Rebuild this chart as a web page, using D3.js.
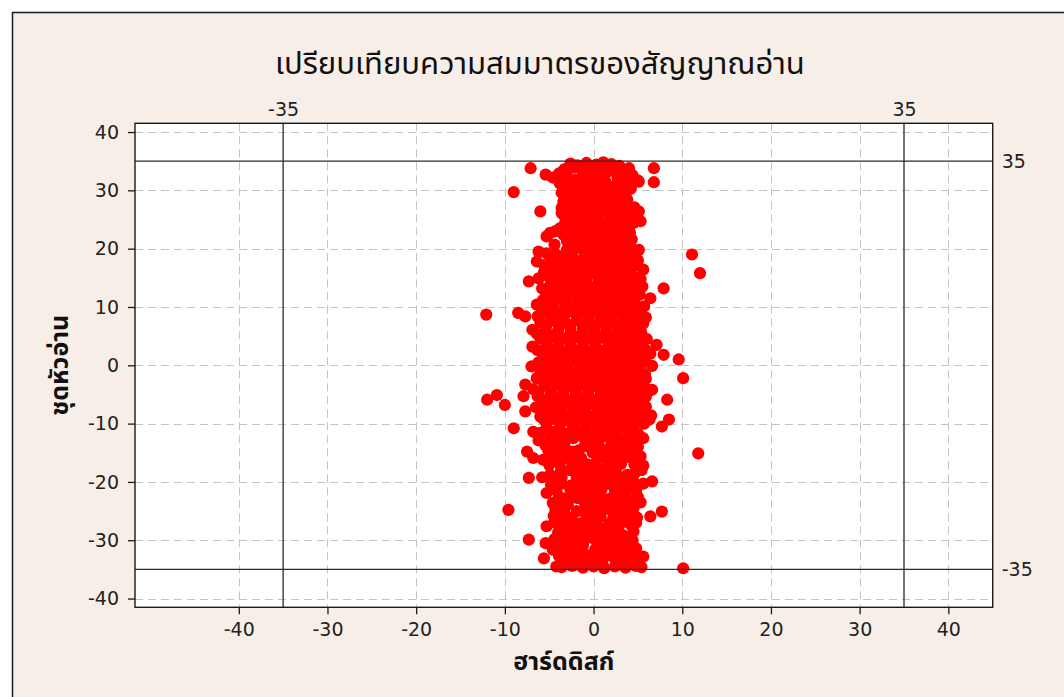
<!DOCTYPE html>
<html>
<head>
<meta charset="utf-8">
<script src="https://cdn.jsdelivr.net/npm/d3@7"></script>
<style>
  html, body { margin: 0; padding: 0; background: #ffffff; }
  svg { display: block; }
</style>
</head>
<body>
<svg id="chart" width="1064" height="697"></svg>
<script>
// Chart texts
const chartTitle = "เปรียบเทียบความสมมาตรของสัญญาณอ่าน";
const xTitle = "ฮาร์ดดิสก์";
const yTitle = "ชุดหัวอ่าน";

// Axes
const xTicks = [-40, -30, -20, -10, 0, 10, 20, 30, 40];
const yTicks = [-40, -30, -20, -10, 0, 10, 20, 30, 40];
const xDomain = [-51.7, 45.0];
const yDomain = [-41.5, 41.5];

// Specification limits drawn as reference lines
const limitValues = [-35, 35];

// Measured readings: [hard-disk offset, head offset]
const readings = [
  [-2.6,34.6],[-1.8,34.3],[-0.8,34.7],[0.3,34.4],[1.1,34.8],[2.0,34.5],[2.9,34.2],
  [-7.1,33.8],[-3.3,33.6],[-2.2,33.9],[0.8,33.7],[2.4,33.4],[3.5,33.1],[6.8,33.8],
  [-5.4,32.7],[-3.9,32.9],[-1.2,33.0],[1.6,33.2],[3.3,32.8],[4.4,32.6],
  [-4.6,32.2],[-3.0,32.4],[-0.4,32.3],[0.4,32.5],[2.7,32.1],[4.0,32.0],[5.0,31.7],
  [-2.3,31.4],[-0.9,31.2],[1.3,31.6],[5.1,31.5],[6.8,31.4],
  [-1.7,30.8],[0.4,31.0],[2.2,30.7],
  [-9.0,29.7],[-2.6,30.1],[-0.2,30.3],[1.8,29.9],[3.0,30.1],
  [-2.1,29.4],[0.8,29.5],[3.6,29.2],
  [-3.4,28.1],[-0.4,28.4],[1.5,28.4],[3.8,28.4],[-2.5,28.7],
  [-3.0,27.3],[-1.3,27.6],[0.9,27.2],[2.4,27.5],[4.6,27.1],
  [-6.0,26.4],[-2.6,26.4],[-0.9,26.1],[0.8,26.7],[2.6,26.7],[5.1,26.4],
  [-3.3,25.6],[-1.9,25.0],[1.9,25.5],[3.1,25.3],[4.2,25.8],
  [-2.8,24.4],[-0.6,24.8],[0.4,24.2],[2.0,24.6],[3.4,24.7],[5.3,24.7],
  [-3.8,23.5],[-1.5,23.3],[0.9,23.6],[2.6,23.2],[4.0,23.1],
  [-5.3,22.1],[-4.9,22.7],[-3.4,22.4],[-0.7,23.2],[-1.5,22.1],[1.7,22.4],[3.0,22.0],[4.1,22.7],
  [-2.2,21.5],[-1.3,21.0],[0.5,21.3],[1.3,21.7],[2.4,21.2],[3.5,21.6],
  [-6.2,19.5],[-3.0,19.8],[-1.5,20.1],[0.0,19.8],[1.0,20.4],[2.2,20.0],[3.2,20.3],[5.1,19.8],
  [-4.2,19.0],[-2.4,18.8],[-0.6,19.3],[1.5,19.2],[2.9,18.9],[3.8,19.2],[4.6,18.7],[11.1,19.0],
  [-6.4,17.8],[-3.6,18.2],[-1.8,17.9],[0.3,18.3],[1.9,17.7],[3.4,18.0],[4.1,18.4],
  [-4.9,16.7],[-4.0,17.1],[-2.8,16.8],[-0.9,17.2],[0.7,16.9],[1.9,17.2],[3.4,16.7],[4.6,17.0],
  [-5.6,15.9],[-2.6,15.5],[-1.4,16.0],[0.1,15.7],[1.3,16.1],[2.9,15.6],[4.1,15.9],[4.9,15.0],[12.0,15.8],
  [-7.3,14.4],[-4.5,14.7],[-3.5,14.4],[-2.0,14.8],[-0.8,14.5],[0.6,14.7],[1.9,14.3],[3.2,14.6],[4.4,14.2],[5.5,13.5],
  [-5.8,13.2],[-4.1,13.4],[-2.9,13.1],[-1.5,13.5],[-0.2,13.2],[1.1,13.4],[2.4,13.0],[3.6,13.3],[4.8,13.1],[7.9,13.2],
  [-5.0,12.0],[-3.6,11.8],[-2.3,12.2],[-1.0,11.9],[0.4,12.1],[1.7,11.8],[2.9,12.2],[4.1,11.9],[5.2,12.1],[6.4,11.5],
  [-6.4,10.4],[-4.5,10.7],[-3.1,10.5],[-1.7,10.8],[-0.4,10.5],[0.9,10.7],[2.2,10.4],[3.5,10.8],[4.7,10.5],[5.7,10.1],
  [-12.1,8.7],[-8.5,9.0],[-5.5,9.2],[-4.0,8.9],[-2.6,9.3],[-1.2,9.0],[0.2,9.2],[1.5,8.9],[2.8,9.3],[4.0,9.0],[5.2,9.2],
  [-7.7,8.4],
  [-6.0,7.4],[-4.6,7.7],[-3.3,7.5],[-1.9,7.8],[-0.6,7.4],[0.8,7.7],[2.1,7.5],[3.4,7.8],[4.7,7.4],[5.6,7.2],
  [-6.9,6.1],[-5.4,6.2],[-4.0,6.0],[-2.6,6.3],[-1.2,6.0],[0.1,6.2],[1.5,6.0],[2.8,6.3],[4.1,6.1],[5.3,6.0],
  [-6.0,4.6],[-4.6,4.8],[-3.3,4.6],[-1.9,4.9],[-0.5,4.6],[0.9,4.8],[2.2,4.6],[3.5,4.9],[4.8,4.7],[6.0,4.5],
  [-6.9,3.2],[-5.3,3.4],[-4.0,3.2],[-2.6,3.5],[-1.2,3.2],[0.2,3.4],[1.6,3.1],[2.9,3.4],[4.5,3.2],[5.5,3.3],[7.1,3.5],
  [-5.7,1.9],[-4.4,2.0],[-3.0,1.8],[-1.6,2.1],[-0.2,1.8],[1.2,2.0],[2.5,1.8],[3.8,2.1],[5.1,1.9],[6.4,2.0],[7.9,1.8],
  [9.6,1.0],
  [-6.2,0.5],[-4.9,0.6],[-3.5,0.4],[-2.1,0.7],[-0.8,0.4],[0.6,0.6],[1.9,0.4],[3.2,0.7],[4.5,0.5],[5.8,0.6],
  [-7.0,-0.2],[6.6,-0.1],
  [-5.6,-0.9],[-4.2,-0.8],[-2.8,-1.0],[-1.4,-0.8],[0.0,-1.0],[1.3,-0.8],[2.6,-1.0],[3.9,-0.8],[5.2,-0.9],
  [-6.4,-2.2],[-5.0,-2.1],[-3.6,-2.3],[-2.2,-2.0],[-0.8,-2.3],[0.6,-2.1],[2.0,-2.3],[3.3,-2.0],[4.6,-2.2],[5.9,-2.3],[10.1,-2.2],
  [-7.7,-3.3],[-5.5,-3.5],[-4.1,-3.3],[-2.7,-3.6],[-1.3,-3.3],[0.1,-3.5],[1.4,-3.3],[2.7,-3.6],[4.0,-3.4],[5.3,-3.5],
  [6.6,-4.2],
  [-6.2,-4.7],[-4.8,-4.6],[-3.4,-4.8],[-2.0,-4.6],[-0.6,-4.9],[0.8,-4.6],[2.1,-4.8],[3.4,-4.6],[4.7,-4.9],[6.0,-4.7],
  [-10.9,-5.1],[-7.9,-5.3],
  [-12.0,-5.9],[-5.6,-6.0],[-4.2,-5.8],[-2.8,-6.1],[-1.4,-5.8],[0.0,-6.0],[1.4,-5.8],[2.7,-6.1],[4.0,-5.9],[5.3,-6.0],[8.3,-5.9],
  [-10.0,-6.8],
  [-6.5,-7.2],[-5.0,-7.3],[-3.6,-7.1],[-2.2,-7.4],[-0.8,-7.1],[0.6,-7.3],[2.0,-7.1],[3.3,-7.4],[4.6,-7.2],[5.9,-7.1],
  [-7.7,-7.9],
  [-6.0,-8.8],[-4.4,-8.5],[-3.0,-8.7],[-1.6,-8.5],[-0.2,-8.8],[1.2,-8.5],[2.6,-8.7],[3.9,-8.5],[5.2,-8.8],[6.5,-8.6],
  [8.5,-9.3],
  [-5.3,-10.0],[-3.8,-9.9],[-2.4,-10.1],[-1.0,-9.9],[0.4,-10.1],[1.8,-9.9],[3.1,-10.2],[4.4,-9.9],[5.7,-10.0],[7.7,-10.5],
  [-9.0,-10.8],
  [-6.8,-11.4],[-6.0,-11.6],[-4.5,-11.4],[-3.0,-11.7],[-1.6,-11.4],[-0.2,-11.6],[1.2,-11.3],[2.6,-11.6],[3.9,-11.4],[5.0,-11.7],
  [-3.7,-12.7],[-2.3,-12.5],[0.0,-12.8],[1.9,-12.6],[3.2,-12.9],[5.6,-12.5],
  [-5.4,-13.8],[-4.2,-13.6],[-1.0,-13.9],[0.6,-13.7],[2.4,-14.0],[4.3,-13.7],
  [-7.5,-14.8],[-3.2,-14.9],[-1.7,-14.6],[-0.1,-15.0],[1.5,-14.7],[3.2,-14.5],[11.8,-15.1],
  [-6.8,-15.9],[-4.5,-15.6],[-2.4,-16.0],[0.8,-15.8],[2.3,-16.1],[4.0,-15.7],[5.3,-15.6],
  [-3.8,-16.9],[-1.3,-17.1],[0.2,-16.8],[1.6,-17.2],[3.1,-16.9],[4.6,-17.0],
  [-4.9,-18.8],[-2.7,-18.0],[-0.5,-18.3],[1.0,-17.9],[2.5,-18.2],[3.8,-18.8],[5.4,-18.0],
  [-7.3,-19.3],[-4.5,-19.5],[-1.9,-19.2],[0.4,-19.6],[1.9,-19.1],[3.3,-19.4],[6.6,-19.9],
  [-3.6,-20.3],[-1.2,-20.6],[1.2,-20.2],[2.7,-20.5],[4.6,-20.3],
  [-5.3,-21.9],[-2.6,-21.4],[-0.4,-21.6],[0.9,-21.3],[2.4,-21.7],[3.7,-21.4],
  [-3.9,-22.5],[-1.8,-22.8],[0.3,-22.4],[1.8,-22.9],[2.6,-22.2],[5.0,-22.6],
  [-4.6,-23.6],[-2.9,-23.8],[-1.0,-23.5],[1.2,-23.9],[3.0,-23.6],[4.2,-23.8],
  [-9.6,-24.8],[-3.3,-24.7],[-1.9,-25.0],[0.0,-24.6],[2.0,-24.9],[4.5,-24.5],[7.7,-25.1],
  [-4.5,-25.8],[-2.5,-26.1],[-0.8,-25.7],[0.8,-26.0],[3.1,-25.6],[4.9,-26.1],[6.4,-25.9],
  [-3.6,-26.9],[-1.5,-27.1],[0.3,-26.8],[1.8,-27.2],[3.8,-26.9],
  [-5.3,-27.6],[-2.7,-27.9],[-0.6,-27.7],[1.2,-28.0],[2.8,-27.8],[4.3,-27.5],
  [-4.0,-28.7],[-1.9,-29.0],[0.6,-28.6],[2.2,-28.9],[4.5,-28.5],
  [-7.3,-29.9],[-3.2,-29.8],[-1.1,-30.1],[0.0,-29.7],[1.6,-30.0],[3.4,-29.8],
  [-5.4,-30.5],[-4.2,-30.8],[-2.2,-30.6],[2.5,-30.7],[4.0,-30.4],
  [-3.5,-31.6],[-1.4,-31.8],[0.2,-31.5],[1.3,-31.9],[3.0,-31.6],[4.8,-31.4],
  [-5.6,-33.1],[-3.9,-32.7],[-2.7,-32.9],[-0.6,-32.6],[1.0,-33.0],[2.0,-32.7],[3.8,-32.9],[5.6,-32.8],
  [-3.2,-33.8],[-1.8,-33.6],[0.4,-33.9],[2.6,-33.7],[4.3,-33.5],
  [-3.6,-34.6],[-2.4,-34.4],[-1.2,-34.7],[0.0,-34.5],[1.2,-34.8],[2.4,-34.5],[3.6,-34.7],[4.8,-34.4],
  [10.1,-34.8],
  // dense centre of the cloud
  [-4.8,13.9],[-3.4,14.0],[-2.2,13.8],[-0.8,13.9],[0.5,14.0],[1.8,13.8],[3.0,13.9],[4.2,14.0],
  [-5.4,12.6],[-4.3,12.7],[-2.9,12.5],[-1.6,12.7],[-0.3,12.5],[1.0,12.7],[2.3,12.5],[3.5,12.6],[4.7,12.7],
  [-5.7,11.2],[-4.3,11.3],[-3.0,11.1],[-1.6,11.3],[-0.3,11.1],[1.1,11.3],[2.3,11.1],[3.5,11.3],[4.6,11.2],
  [-5.8,9.8],[-4.7,10.0],[-3.3,9.8],[-1.9,10.0],[-0.6,9.8],[0.8,10.0],[2.1,9.8],[3.4,10.0],[4.6,9.8],
  [-6.3,8.4],[-4.8,8.3],[-3.3,8.5],[-1.9,8.3],[-0.5,8.5],[0.9,8.3],[2.1,8.5],[3.4,8.3],[4.6,8.4],[5.9,8.2],
  [-5.3,6.9],[-3.9,6.7],[-2.6,6.9],[-1.2,6.7],[0.1,6.9],[1.4,6.7],[2.8,6.9],[4.0,6.7],[5.2,6.8],
  [-6.4,5.4],[-5.3,5.5],[-4.0,5.3],[-2.6,5.5],[-1.2,5.3],[0.2,5.5],[1.5,5.3],[2.8,5.5],[4.1,5.3],[5.4,5.4],
  [-5.3,4.0],[-3.9,4.1],[-2.6,3.9],[-1.2,4.1],[0.2,3.9],[1.6,4.1],[2.9,3.9],[4.1,4.1],[5.4,4.0],
  [-6.3,2.6],[-5.0,2.7],[-3.7,2.5],[-2.3,2.7],[-0.9,2.5],[0.5,2.7],[1.9,2.5],[3.2,2.7],[4.5,2.6],[5.9,2.6],
  [-5.3,1.2],[-4.0,1.3],[-2.6,1.1],[-1.2,1.3],[0.1,1.1],[1.5,1.3],[2.8,1.1],[4.2,1.3],[5.4,1.2],
  [-5.8,-0.2],[-4.4,-0.1],[-3.0,-0.3],[-1.6,-0.1],[-0.2,-0.3],[1.2,-0.1],[2.5,-0.3],[3.8,-0.1],[5.1,-0.2],
  [-6.0,-1.5],[-4.9,-1.6],[-3.5,-1.4],[-2.1,-1.6],[-0.7,-1.4],[0.7,-1.6],[2.0,-1.4],[3.3,-1.6],[4.5,-1.5],[5.8,-1.5],
  [-5.7,-2.8],[-4.3,-2.9],[-2.9,-2.7],[-1.5,-2.9],[-0.1,-2.7],[1.3,-2.9],[2.6,-2.7],[4.0,-2.9],[5.3,-2.8],
  [-6.8,-4.1],[-4.8,-4.0],[-3.4,-4.2],[-2.0,-4.0],[-0.6,-4.2],[0.8,-4.0],[2.1,-4.2],[3.4,-4.0],[4.7,-4.1],[5.9,-4.0],
  [-6.3,-5.3],[-4.9,-5.4],[-3.5,-5.2],[-2.1,-5.4],[-0.7,-5.2],[0.7,-5.4],[2.0,-5.2],[3.4,-5.4],[4.6,-5.3],[5.9,-5.4],
  [-5.8,-6.6],[-4.3,-6.7],[-2.9,-6.5],[-1.5,-6.7],[-0.1,-6.5],[1.3,-6.7],[2.7,-6.5],[4.0,-6.7],[5.3,-6.6],
  [-5.3,-7.9],[-3.7,-8.0],[-2.3,-7.8],[-0.9,-8.0],[0.5,-7.8],[1.9,-8.0],[3.2,-7.8],[4.6,-8.0],[5.8,-7.9],
  [-5.6,-9.3],[-4.5,-9.2],[-3.1,-9.4],[-1.7,-9.2],[-0.3,-9.4],[1.1,-9.2],[2.5,-9.4],[3.8,-9.2],[5.0,-9.3],[6.3,-9.3],
  [-5.3,-10.7],[-3.8,-10.8],[-2.3,-10.6],[-0.9,-10.8],[0.5,-10.6],[1.9,-10.8],[3.2,-10.6],[4.5,-10.8],
  // upper part of the cloud
  [-1.0,29.0],[2.5,28.9],[-1.8,26.9],[1.6,26.2],[-0.3,25.5],[3.8,24.0],[-2.3,23.8],[0.3,22.6],[2.7,20.8],[-0.5,20.6],
  [-2.6,17.4],[2.6,18.4],[-0.1,16.4],[2.1,15.2],[-3.6,15.8],[-2.0,31.8],[3.6,31.5],[1.7,34.1],[-0.2,33.3],[4.0,33.8],
  [-3.8,31.2],[-1.2,31.9],[2.8,31.3],[-2.9,30.7],[0.9,30.6],[4.2,30.3],[-3.6,29.6],[-0.9,29.9],[2.6,29.7],
  [-2.9,28.9],[0.2,28.9],[2.2,28.1],[-1.9,28.0],[0.5,27.8],[3.2,27.9],[-3.6,27.0],[-0.3,27.1],[1.6,27.3],[3.4,26.7],
  [-3.6,26.1],[-1.6,25.9],[0.0,26.0],[2.3,25.9],[-2.5,25.1],[0.6,25.0],[2.7,24.9],[4.5,24.4],[-3.3,24.1],[-1.1,23.9],[1.4,24.0],
  [-4.3,23.0],[-2.4,22.6],[0.5,22.8],[2.2,23.0],[3.3,23.7],[-3.0,21.3],[-0.4,21.8],[1.9,21.0],[4.3,21.6],[-4.4,20.7],
  [-2.4,20.3],[0.7,19.6],[1.7,20.7],[4.2,20.2],[-5.3,19.2],[-1.0,18.6],[0.9,18.7],[2.2,18.1],[-4.7,18.3],[-2.8,17.8],
  [-0.3,17.8],[1.2,17.4],[2.8,17.5],[5.0,18.0],[-5.6,17.2],[-3.3,16.3],[-2.0,16.6],[0.4,16.6],[2.2,16.4],[3.6,16.0],
  [-4.5,15.7],[-0.8,15.6],[0.9,15.3],[3.5,15.3],[-5.0,15.1],[-3.0,14.9],[1.3,14.9],[-6.2,14.9],[5.3,14.8],[5.6,16.4],
  // lower part of the cloud
  [-4.9,-12.5],[-1.1,-12.4],[0.9,-12.3],[2.6,-12.2],[4.4,-12.4],[-6.2,-12.9],[-3.3,-13.6],[-0.3,-13.9],[2.0,-13.6],[3.0,-14.1],[5.0,-14.0],
  [-5.1,-14.6],[-4.0,-15.0],[-2.4,-14.8],[0.7,-14.6],[2.4,-15.1],[4.4,-14.9],[-5.7,-16.2],[-3.2,-15.9],[-1.4,-15.9],[1.6,-16.0],[3.2,-16.2],
  [-5.0,-17.1],[-2.4,-17.2],[-0.7,-17.0],[2.4,-17.0],[5.6,-17.2],[-3.7,-18.2],[-1.5,-18.2],[0.3,-18.0],[1.8,-18.6],[4.6,-18.6],
  [-5.8,-19.2],[-3.6,-19.3],[-0.8,-19.5],[1.2,-19.3],[2.6,-19.4],[4.4,-19.5],[-4.8,-20.5],[-2.5,-20.6],[0.1,-20.5],[1.9,-20.4],[3.6,-20.6],[5.6,-20.3],
  [-4.2,-21.5],[-1.6,-21.7],[3.0,-21.8],[4.8,-21.4],[-2.9,-22.7],[-0.7,-22.6],[0.9,-22.9],[3.7,-22.6],[-3.6,-23.7],[0.0,-23.6],[2.2,-23.6],[5.3,-23.5],
  [-4.3,-24.7],[-1.0,-24.8],[1.0,-24.8],[3.3,-24.9],[-3.4,-25.8],[0.1,-26.0],[2.2,-26.3],[4.0,-25.9],[-4.4,-26.9],[-2.5,-27.0],[-0.6,-26.9],[2.8,-26.9],[4.8,-27.0],
  [-3.7,-27.9],[-1.6,-28.1],[0.3,-28.1],[2.0,-28.0],[-3.0,-28.9],[-0.8,-28.8],[1.4,-29.0],[3.3,-29.1],[-4.4,-29.8],[-2.1,-30.0],[0.8,-30.3],[2.5,-29.7],[4.4,-30.0],
  [-3.2,-30.7],[-1.2,-30.9],[0.6,-31.0],[1.6,-30.7],[3.3,-30.8],[-4.6,-31.6],[-2.4,-31.7],[2.1,-31.6],[3.9,-31.8],[-1.6,-32.7],[0.1,-32.6],[2.8,-32.5],[4.7,-32.6],
  [-2.5,-33.7],[-0.6,-33.5],[1.0,-34.0],[3.5,-33.6],[-4.2,-34.5],[5.4,-34.6]
];

const W = 1064, H = 697;
const plot = { left: 135, right: 992.7, top: 123.3, bottom: 607.3 };
const labelFont = "'DejaVu Sans', Tahoma, Verdana, sans-serif";
const thaiFont = "'Noto Sans Thai', 'Noto Sans Thai UI', Loma, Garuda, 'Tlwg Typo', 'DejaVu Sans', sans-serif";

const svg = d3.select("#chart");

// Page background and outer frame
svg.append("rect").attr("width", W).attr("height", H).attr("fill", "#ffffff");
svg.append("rect").attr("x", 12).attr("y", 12).attr("width", W - 12).attr("height", H - 12)
  .attr("fill", "#f8eee8");
svg.append("line").attr("x1", 12).attr("x2", W).attr("y1", 12.5).attr("y2", 12.5)
  .attr("stroke", "#1a1a1a").attr("stroke-width", 1.5);
svg.append("line").attr("x1", 12.5).attr("x2", 12.5).attr("y1", 12).attr("y2", H)
  .attr("stroke", "#1a1a1a").attr("stroke-width", 1.5);

const x = d3.scaleLinear().domain(xDomain).range([plot.left, plot.right]);
const y = d3.scaleLinear().domain(yDomain).range([plot.bottom, plot.top]);

// Plot area
svg.append("rect")
  .attr("x", plot.left).attr("y", plot.top)
  .attr("width", plot.right - plot.left).attr("height", plot.bottom - plot.top)
  .attr("fill", "#ffffff");

// Dashed grid
const grid = svg.append("g").attr("stroke", "#c4c4c4").attr("stroke-width", 1)
  .attr("stroke-dasharray", "8,5");
grid.selectAll("line.gx").data(xTicks).join("line").attr("class", "gx")
  .attr("x1", d => Math.round(x(d)) + 0.5).attr("x2", d => Math.round(x(d)) + 0.5)
  .attr("y1", plot.top).attr("y2", plot.bottom);
grid.selectAll("line.gy").data(yTicks).join("line").attr("class", "gy")
  .attr("y1", d => Math.round(y(d)) + 0.5).attr("y2", d => Math.round(y(d)) + 0.5)
  .attr("x1", plot.left).attr("x2", plot.right);

// Readings
svg.append("g").selectAll("circle").data(readings).join("circle")
  .attr("cx", d => x(d[0])).attr("cy", d => y(d[1])).attr("r", 6.1)
  .attr("fill", "#ff0000");

// Reference lines at the limits
const refs = svg.append("g").attr("stroke", "#2b2b2b").attr("stroke-width", 1.3);
refs.selectAll("line.rx").data(limitValues).join("line").attr("class", "rx")
  .attr("x1", d => x(d)).attr("x2", d => x(d)).attr("y1", plot.top).attr("y2", plot.bottom);
refs.selectAll("line.ry").data(limitValues).join("line").attr("class", "ry")
  .attr("y1", d => y(d)).attr("y2", d => y(d)).attr("x1", plot.left).attr("x2", plot.right);

// Plot frame
svg.append("rect")
  .attr("x", plot.left).attr("y", plot.top)
  .attr("width", plot.right - plot.left).attr("height", plot.bottom - plot.top)
  .attr("fill", "none").attr("stroke", "#1a1a1a").attr("stroke-width", 1.4);

const plainNumber = d => String(d);

function styleAxis(g) {
  g.select(".domain").remove();
  g.selectAll(".tick line").attr("stroke", "#1a1a1a").attr("stroke-width", 1.3);
  g.selectAll(".tick text").attr("fill", "#222").style("font-family", labelFont).style("font-size", "19px");
}

svg.append("g").attr("transform", `translate(0,${plot.bottom})`)
  .call(d3.axisBottom(x).tickValues(xTicks).tickSize(7).tickPadding(8).tickFormat(plainNumber))
  .call(styleAxis);

svg.append("g").attr("transform", `translate(${plot.left},0)`)
  .call(d3.axisLeft(y).tickValues(yTicks).tickSize(7).tickPadding(9).tickFormat(plainNumber))
  .call(styleAxis);

// Limit labels along top and right edges
svg.append("g").attr("transform", `translate(0,${plot.top})`)
  .call(d3.axisTop(x).tickValues(limitValues).tickSize(0).tickPadding(7).tickFormat(plainNumber))
  .call(styleAxis);
svg.append("g").attr("transform", `translate(${plot.right},0)`)
  .call(d3.axisRight(y).tickValues(limitValues).tickSize(0).tickPadding(9).tickFormat(plainNumber))
  .call(styleAxis);

// Titles
svg.append("text").attr("x", 540).attr("y", 74).attr("text-anchor", "middle")
  .style("font-family", thaiFont).style("font-size", "31px").attr("fill", "#111")
  .text(chartTitle);

svg.append("text").attr("x", (plot.left + plot.right) / 2).attr("y", 670).attr("text-anchor", "middle")
  .style("font-family", thaiFont).style("font-size", "25px").style("font-weight", "bold").attr("fill", "#111")
  .text(xTitle);

svg.append("text")
  .attr("transform", `translate(68,${(plot.top + plot.bottom) / 2}) rotate(-90)`)
  .attr("text-anchor", "middle")
  .style("font-family", thaiFont).style("font-size", "25px").style("font-weight", "bold").attr("fill", "#111")
  .text(yTitle);
</script>
</body>
</html>
